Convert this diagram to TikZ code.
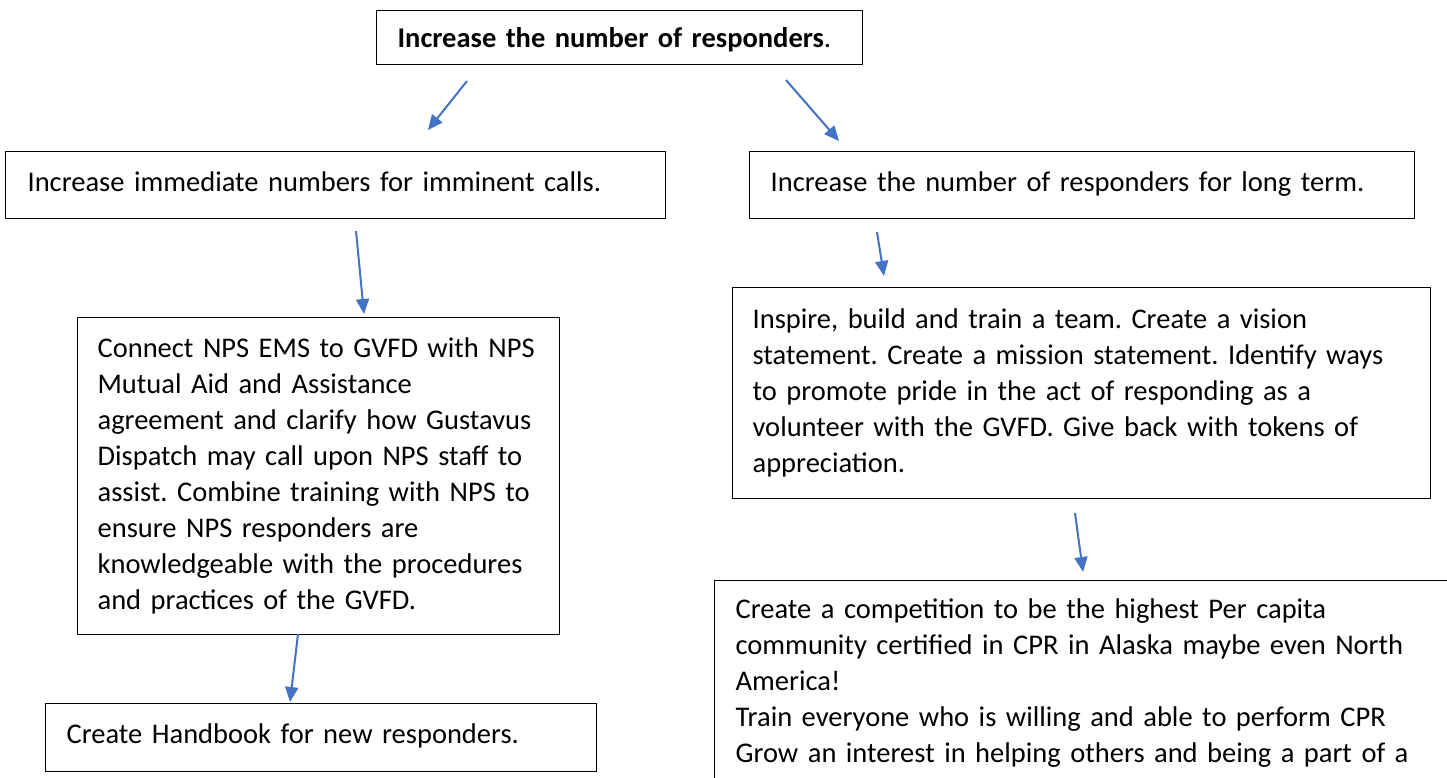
\documentclass[tikz,border=0pt]{standalone}
\usepackage{fontspec}
\setmainfont{Carlito}
\frenchspacing
\usetikzlibrary{arrows.meta}
\definecolor{arrowblue}{HTML}{4472C4}
\begin{document}
\begin{tikzpicture}[x=1pt,y=-1pt,
  box/.style={draw=black, line width=1.2pt, rectangle, anchor=north west, inner sep=0pt, align=left, font=\fontsize{28.5}{36}\selectfont},
  oneline/.style={text height=20pt, text depth=8pt},
  conn/.style={draw=arrowblue, line width=2pt, -{Triangle[length=15pt,width=13pt]}}]
\useasboundingbox (0,0) rectangle (1447,778);
\fill[white] (0,0) rectangle (1447,778);
\clip (0,0) rectangle (1447,778);
\node[box, minimum width=486, minimum height=54, text width=444, text height=20pt, text depth=0pt] (top) at (376,10) {\textbf{Increase the number of responders}.};
\node[box, oneline, minimum width=660, minimum height=67, text width=616] (l1) at (5,151) {Increase immediate numbers for imminent calls.};
\node[box, oneline, minimum width=665, minimum height=67, text width=623] (r1) at (749,151) {Increase the number of responders for long term.};
\node[box, minimum width=482, minimum height=317, text width=442] (l2) at (77,317) {Connect NPS EMS to GVFD with NPS\\
Mutual Aid and Assistance\\
agreement and clarify how Gustavus\\
Dispatch may call upon NPS staff to\\
assist. Combine training with NPS to\\
ensure NPS responders are\\
knowledgeable with the procedures\\
and practices of the GVFD.};
\node[box, minimum width=698, minimum height=211, text width=658] (r2) at (732,287) {Inspire, build and train a team. Create a vision\\
statement. Create a mission statement. Identify ways\\
to promote pride in the act of responding as a\\
volunteer with the GVFD. Give back with tokens of\\
appreciation.};
\node[box, minimum width=760, minimum height=204, text width=718] (r3) at (714,580) {Create a competition to be the highest Per capita\\
community certified in CPR in Alaska maybe even North\\
America!\\
Train everyone who is willing and able to perform CPR\\
Grow an interest in helping others and being a part of a};
\node[box, oneline, minimum width=551, minimum height=68, text width=509] (l3) at (45,703) {Create Handbook for new responders.};
\coordinate (a1s) at (467,81);  \coordinate (a1e) at (428,130);
\coordinate (a2s) at (786,80);  \coordinate (a2e) at (839,141);
\coordinate (a3s) at (356,231); \coordinate (a3e) at (364,314);
\coordinate (a4s) at (877,232); \coordinate (a4e) at (884,276);
\coordinate (a5s) at (1075,513); \coordinate (a5e) at (1083,572);
\coordinate (a6s) at (298,634); \coordinate (a6e) at (290,702);
\draw[conn] (a1s) -- (a1e);
\draw[conn] (a2s) -- (a2e);
\draw[conn] (a3s) -- (a3e);
\draw[conn] (a4s) -- (a4e);
\draw[conn] (a5s) -- (a5e);
\draw[conn] (a6s) -- (a6e);
\end{tikzpicture}
\end{document}
